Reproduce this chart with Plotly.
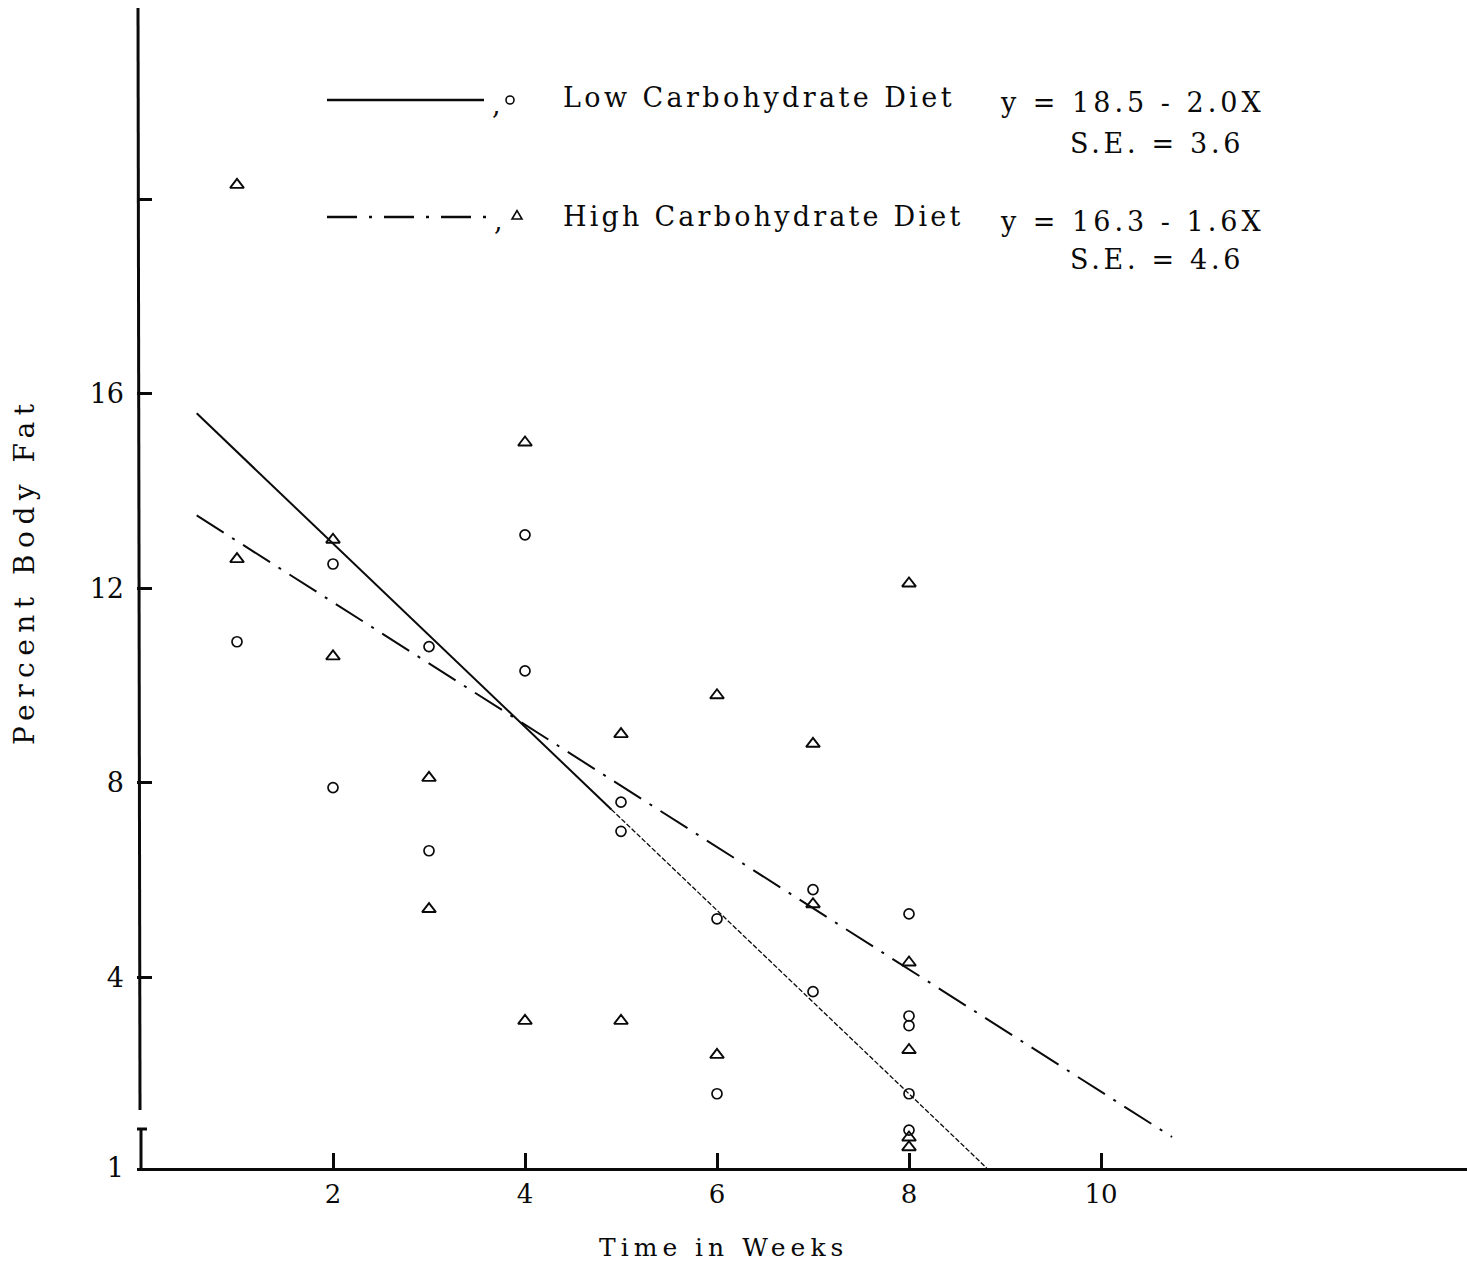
import plotly.graph_objects as go

# ---------------- data ----------------
low_weeks = [1, 2, 2, 3, 3, 4, 4, 5, 5, 6, 6, 7, 7, 8, 8, 8, 8, 8]
low_fat = [10.9, 7.9, 12.5, 10.8, 6.6, 13.1, 10.3, 7.6, 7.0, 5.2, 1.6, 5.8, 3.7, 5.3, 3.2, 3.0, 1.6, 0.85]

high_weeks = [1, 1, 2, 2, 3, 3, 4, 4, 5, 5, 6, 6, 7, 7, 8, 8, 8, 8, 8]
high_fat = [20.3, 12.6, 13.0, 10.6, 8.1, 5.4, 15.0, 3.1, 9.0, 3.1, 9.8, 2.4, 8.8, 5.5, 12.1, 4.3, 2.5, 0.7, 0.5]

# fitted lines as drawn (solid part, then faint continuation)
low_fit_solid_x = [0.58, 4.9]
low_fit_solid_y = [15.6, 7.45]
low_fit_faint_x = [4.9, 8.81]
low_fit_faint_y = [7.45, 0.07]
high_fit_x = [0.58, 10.74]
high_fit_y = [13.5, 0.71]

x_tickvals = [2, 4, 6, 8, 10]
x_ticktext = ["2", "4", "6", "8", "10"]
y_tickvals = [0.072, 4, 8, 12, 16, 20]
y_ticktext = ["1", "4", "8", "12", "16", ""]

legend_low = "Low Carbohydrate Diet"
legend_high = "High Carbohydrate Diet"
eq_low = ["y = 18.5 - 2.0X", "S.E. = 3.6"]
eq_high = ["y = 16.3 - 1.6X", "S.E. = 4.6"]
x_title = "Time in Weeks"
y_title = "Percent Body Fat"

# ---------------- layout geometry ----------------
W, H = 1467, 1264
PL, PR, PT, PB = 137, 1467, 8, 1168
X0PX, XUNIT = 141, 96.0
Y0PX, YUNIT = 1171.5, 48.6

def xr(px):
    return (px - X0PX) / XUNIT

def yr(py):
    return (Y0PX - py) / YUNIT

def pxp(px):
    return (px - PL) / (PR - PL)

def pyp(py):
    return (PB - py) / (PB - PT)

def spaced(text, ls):
    return f'<span style="letter-spacing:{ls}px">{text}</span>'

FONT = "DejaVu Serif, Liberation Serif, serif"
INK = "#0a0a0a"

fig = go.Figure()

fig.add_trace(go.Scatter(x=low_fit_solid_x, y=low_fit_solid_y, mode="lines",
                         line=dict(color=INK, width=2), showlegend=False, hoverinfo="skip"))
fig.add_trace(go.Scatter(x=low_fit_faint_x, y=low_fit_faint_y, mode="lines",
                         line=dict(color=INK, width=1.3, dash="5px,2px"), showlegend=False, hoverinfo="skip"))
fig.add_trace(go.Scatter(x=high_fit_x, y=high_fit_y, mode="lines",
                         line=dict(color=INK, width=2, dash="32px,10px,3px,10px"),
                         showlegend=False, hoverinfo="skip"))

fig.add_trace(go.Scatter(x=low_weeks, y=low_fat, mode="markers", name=legend_low,
                         marker=dict(symbol="circle-open", size=10, color=INK, line=dict(width=1.7)),
                         showlegend=False))
fig.add_trace(go.Scatter(x=high_weeks, y=high_fat, mode="markers", name=legend_high,
                         marker=dict(symbol="triangle-up-open", size=12, color=INK, line=dict(width=1.9)),
                         showlegend=False))

# small legend glyphs (circle and triangle)
cx, cy, cr = 510, 100, 4
tx, ty, ts = 517, 215, 5
tri_path = (f"M {pxp(tx - ts)} {pyp(ty + ts * 0.8)} L {pxp(tx + ts)} {pyp(ty + ts * 0.8)} "
            f"L {pxp(tx)} {pyp(ty - ts * 0.9)} Z")

shapes = [
    # broken y axis: upper long segment and lower short bracket
    dict(type="line", xref="paper", yref="paper", x0=pxp(138), x1=pxp(140), y0=pyp(PT), y1=pyp(1110),
         line=dict(color=INK, width=3)),
    dict(type="line", xref="paper", yref="paper", x0=pxp(141), x1=pxp(141), y0=pyp(1129), y1=pyp(PB),
         line=dict(color=INK, width=3)),
    dict(type="line", xref="paper", yref="paper", x0=pxp(137), x1=pxp(147), y0=pyp(1129), y1=pyp(1129),
         line=dict(color=INK, width=3)),
    # legend line samples
    dict(type="line", xref="paper", yref="paper", x0=pxp(327), x1=pxp(484), y0=pyp(100), y1=pyp(100),
         line=dict(color=INK, width=2.5)),
    dict(type="line", xref="paper", yref="paper", x0=pxp(327), x1=pxp(490), y0=pyp(217), y1=pyp(217),
         line=dict(color=INK, width=2.5, dash="30px,12px,3px,12px")),
    dict(type="circle", xref="paper", yref="paper", x0=pxp(cx - cr), x1=pxp(cx + cr),
         y0=pyp(cy + cr), y1=pyp(cy - cr), line=dict(color=INK, width=1.6)),
    dict(type="path", xref="paper", yref="paper", path=tri_path, line=dict(color=INK, width=1.6)),
]

def ann(text, px, py, size=27, xanchor="left", angle=0, ls=0):
    return dict(text=spaced(text, ls) if ls else text, xref="paper", yref="paper",
                x=pxp(px), y=pyp(py),
                xanchor=xanchor, yanchor="middle", showarrow=False, textangle=angle,
                font=dict(family=FONT, size=size, color=INK))

annotations = [
    ann(",", 490, 104, 27),
    ann(",", 492, 220, 27),
    ann(legend_low, 561, 97, 27, ls=3.4),
    ann(legend_high, 561, 216, 27, ls=3.2),
    ann(eq_low[0], 998, 103, 27, ls=4),
    ann(eq_low[1], 1068, 143, 27, ls=3.7),
    ann(eq_high[0], 998, 222, 27, ls=4),
    ann(eq_high[1], 1068, 259, 27, ls=3.7),
    ann(x_title, 723, 1247, 25, xanchor="center", ls=5),
    ann(y_title, 24, 571, 28, xanchor="center", angle=-90, ls=6.5),
]

fig.update_layout(
    width=W, height=H,
    margin=dict(l=PL, r=W - PR, t=PT, b=H - PB, pad=0),
    paper_bgcolor="white", plot_bgcolor="white",
    showlegend=False,
    shapes=shapes,
    annotations=annotations,
    xaxis=dict(range=[xr(PL), xr(PR)], showgrid=False, zeroline=False,
               showline=True, linecolor=INK, linewidth=3,
               ticks="inside", ticklen=15, tickwidth=3, tickcolor=INK,
               tickvals=x_tickvals, ticktext=x_ticktext, ticklabelstandoff=1,
               tickfont=dict(family=FONT, size=26, color=INK)),
    yaxis=dict(range=[yr(PB), yr(PT)], showgrid=False, zeroline=False,
               showline=False,
               ticks="inside", ticklen=15, tickwidth=3, tickcolor=INK,
               tickvals=y_tickvals, ticktext=y_ticktext, ticklabelstandoff=12,
               tickfont=dict(family=FONT, size=27, color=INK)),
)

fig.write_html("out.html")
